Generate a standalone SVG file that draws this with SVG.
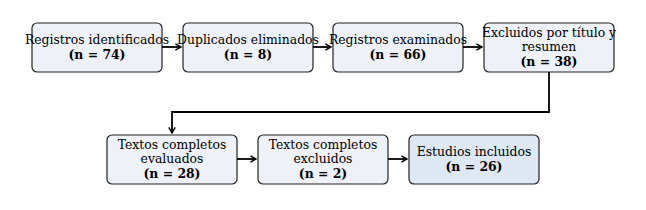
<svg xmlns="http://www.w3.org/2000/svg" width="646" height="210" viewBox="0 0 646 210">
<defs>
<style>
.box{fill:#eef2f8;stroke:#222;stroke-width:1.2}
.fin{fill:#dde8f2}
text{font-family:"DejaVu Serif",serif;font-size:12.4px;fill:#000;text-anchor:middle}
.b{font-weight:bold}
.c{fill:none;stroke:#000;stroke-width:1.8}
</style>
<marker id="ah" viewBox="0 0 10 10" refX="9" refY="5" markerWidth="8" markerHeight="8" orient="auto" markerUnits="userSpaceOnUse">
<path d="M2,1 L9,5 L2,9" fill="none" stroke="#000" stroke-width="1.8"/>
</marker>
</defs>
<rect width="646" height="210" fill="#fff"/>
<g id="n1"><rect class="box" x="32" y="23" width="130" height="49" rx="5"/><text x="97" y="44">Registros identificados</text><text class="b" x="97" y="59">(n = 74)</text></g>
<g id="n2"><rect class="box" x="183" y="23" width="130" height="49" rx="5"/><text x="248" y="44">Duplicados eliminados</text><text class="b" x="248" y="59">(n = 8)</text></g>
<g id="n3"><rect class="box" x="333" y="23" width="130" height="49" rx="5"/><text x="398" y="44">Registros examinados</text><text class="b" x="398" y="59">(n = 66)</text></g>
<g id="n4"><rect class="box" x="484" y="23" width="130" height="49" rx="5"/><text x="549" y="36.5">Excluidos por título y</text><text x="549" y="51">resumen</text><text class="b" x="549" y="66">(n = 38)</text></g>
<g id="n5"><rect class="box" x="107" y="135" width="130" height="49" rx="5"/><text x="172" y="148.5">Textos completos</text><text x="172" y="163">evaluados</text><text class="b" x="172" y="178">(n = 28)</text></g>
<g id="n6"><rect class="box" x="258" y="135" width="130" height="49" rx="5"/><text x="323" y="148.5">Textos completos</text><text x="323" y="163">excluidos</text><text class="b" x="323" y="178">(n = 2)</text></g>
<g id="n7"><rect class="box fin" x="409" y="135" width="130" height="49" rx="5"/><text x="474" y="156">Estudios incluidos</text><text class="b" x="474" y="171">(n = 26)</text></g>
<g id="connectors">
<line class="c" x1="162" y1="47" x2="181" y2="47" marker-end="url(#ah)"/>
<line class="c" x1="313" y1="47" x2="331" y2="47" marker-end="url(#ah)"/>
<line class="c" x1="463" y1="47" x2="482" y2="47" marker-end="url(#ah)"/>
<path class="c" d="M549,72 V112 H172 V133" marker-end="url(#ah)"/>
<line class="c" x1="237" y1="159" x2="256" y2="159" marker-end="url(#ah)"/>
<line class="c" x1="388" y1="159" x2="407" y2="159" marker-end="url(#ah)"/>
</g>
</svg>
